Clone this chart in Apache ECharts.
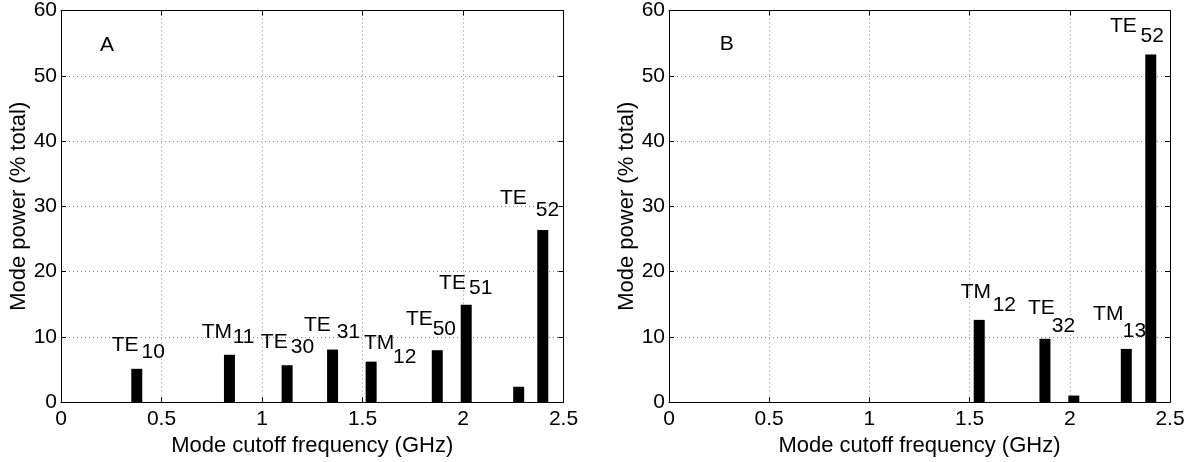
<!DOCTYPE html>
<html>
<head>
<meta charset="utf-8">
<script src="https://cdn.jsdelivr.net/npm/echarts@6/dist/echarts.min.js"></script>
<style>
html,body{margin:0;padding:0;background:#fff;}
#chart{width:1191px;height:462px;}
</style>
</head>
<body>
<div id="chart"></div>
<script>
// ---- data ----
const xTicks = [0, 0.5, 1, 1.5, 2, 2.5];
const yTicks = [0, 10, 20, 30, 40, 50, 60];
const xAxisTitle = 'Mode cutoff frequency (GHz)';
const yAxisTitle = 'Mode power (% total)';
const panelNames = ['A', 'B'];
const panelNamePos = [[0.229, 54.7], [0.288, 54.9]];

// Panel A bars
const freqA = [0.377, 0.838, 1.125, 1.351, 1.543, 1.872, 2.016, 2.277, 2.397];
const powerA = [5.1, 7.25, 5.65, 8.05, 6.2, 7.95, 14.9, 2.35, 26.35];
// Panel A mode labels
const modeA = ['TE', 'TM', 'TE', 'TE', 'TM', 'TE', 'TE', 'TE'];
const subA = ['10', '11', '30', '31', '12', '50', '51', '52'];
const modePosA = [[0.252, 8.67], [0.700, 10.68], [0.994, 9.16], [1.209, 11.71], [1.507, 9.05], [1.716, 12.70], [1.881, 18.28], [2.184, 31.25]];
const subPosA = [[0.401, 7.68], [0.854, 9.92], [1.143, 8.40], [1.372, 10.68], [1.652, 6.87], [1.849, 11.18], [2.030, 17.52], [2.362, 29.43]];

// Panel B bars
const freqB = [1.548, 1.876, 2.020, 2.282, 2.404];
const powerB = [12.6, 9.7, 1.0, 8.15, 53.25];
// Panel B mode labels
const modeB = ['TM', 'TE', 'TM', 'TE'];
const subB = ['12', '32', '13', '52'];
const modePosB = [[1.456, 16.88], [1.791, 14.34], [2.116, 13.51], [2.200, 57.64]];
const subPosB = [[1.615, 14.90], [1.910, 11.56], [2.264, 10.80], [2.353, 56.05]];

// ---- chart ----
const FONT = '"Liberation Sans", Arial, Helvetica, sans-serif';
const chart = echarts.init(document.getElementById('chart'), null, {renderer: 'canvas'});

const grids = [
  {left: 61, top: 9, width: 502.5, height: 394.5},
  {left: 669, top: 9, width: 501, height: 394.5}
];

function xAxes(gi) {
  return [
    {
      type: 'value', gridIndex: gi, position: 'bottom',
      min: xTicks[0], max: xTicks[xTicks.length - 1], interval: 0.5,
      name: xAxisTitle, nameLocation: 'middle', nameGap: 29,
      nameTextStyle: {fontFamily: FONT, fontSize: 22, color: '#000'},
      axisLine: {show: true, onZero: false, lineStyle: {color: '#000', width: 1}},
      axisTick: {show: true, inside: true, length: 5, lineStyle: {color: '#000'}},
      axisLabel: {show: true, fontFamily: FONT, fontSize: 21, color: '#000', margin: 7,
        formatter: v => String(v)},
      splitLine: {show: true, lineStyle: {color: '#8a8a8a', type: [1, 3], width: 1}}
    },
    {
      type: 'value', gridIndex: gi, position: 'top',
      min: xTicks[0], max: xTicks[xTicks.length - 1], interval: 0.5,
      axisLine: {show: true, onZero: false, lineStyle: {color: '#000', width: 1}},
      axisTick: {show: true, inside: true, length: 5, lineStyle: {color: '#000'}},
      axisLabel: {show: false},
      splitLine: {show: false}
    }
  ];
}
function yAxes(gi) {
  return [
    {
      type: 'value', gridIndex: gi, position: 'left',
      min: yTicks[0], max: yTicks[yTicks.length - 1], interval: 10,
      name: yAxisTitle, nameLocation: 'middle', nameGap: 30, nameRotate: 90,
      nameTextStyle: {fontFamily: FONT, fontSize: 22, color: '#000'},
      axisLine: {show: true, onZero: false, lineStyle: {color: '#000', width: 1}},
      axisTick: {show: true, inside: true, length: 5, lineStyle: {color: '#000'}},
      axisLabel: {show: true, fontFamily: FONT, fontSize: 21, color: '#000', margin: 4},
      splitLine: {show: true, lineStyle: {color: '#8a8a8a', type: [1, 3], width: 1}}
    },
    {
      type: 'value', gridIndex: gi, position: 'right',
      min: yTicks[0], max: yTicks[yTicks.length - 1], interval: 10,
      axisLine: {show: true, onZero: false, lineStyle: {color: '#000', width: 1}},
      axisTick: {show: true, inside: true, length: 5, lineStyle: {color: '#000'}},
      axisLabel: {show: false},
      splitLine: {show: false}
    }
  ];
}

function barSeries(gi, freqs, powers) {
  return {
    type: 'bar', xAxisIndex: gi * 2, yAxisIndex: gi * 2,
    data: freqs.map((f, i) => [f, powers[i]]),
    barWidth: 11,
    itemStyle: {color: '#000'},
    silent: true, animation: false
  };
}
function textSeries(gi, positions, texts, fontSize) {
  return {
    type: 'scatter', xAxisIndex: gi * 2, yAxisIndex: gi * 2,
    symbolSize: 0.01,
    data: positions.map((p, i) => ({value: [p[0], p[1]], name: texts[i]})),
    label: {
      show: true, position: 'right', distance: 0,
      formatter: p => p.name,
      fontFamily: FONT, fontSize: fontSize, color: '#000', opacity: 1
    },
    itemStyle: {color: '#000'},
    silent: true, animation: false, z: 5
  };
}
function panelLabelSeries(gi) {
  return {
    type: 'scatter', xAxisIndex: gi * 2, yAxisIndex: gi * 2,
    symbolSize: 0.01,
    data: [{value: panelNamePos[gi], name: panelNames[gi]}],
    label: {
      show: true, position: 'inside',
      formatter: p => p.name,
      fontFamily: FONT, fontSize: 21, color: '#000', opacity: 1
    },
    itemStyle: {color: '#000'},
    silent: true, animation: false, z: 5
  };
}

const option = {
  backgroundColor: '#fff',
  animation: false,
  grid: grids,
  xAxis: [...xAxes(0), ...xAxes(1)],
  yAxis: [...yAxes(0), ...yAxes(1)],
  series: [
    barSeries(0, freqA, powerA),
    barSeries(1, freqB, powerB),
    textSeries(0, modePosA, modeA, 21),
    textSeries(0, subPosA, subA, 21),
    textSeries(1, modePosB, modeB, 21),
    textSeries(1, subPosB, subB, 21),
    panelLabelSeries(0),
    panelLabelSeries(1)
  ]
};
chart.setOption(option);
</script>
</body>
</html>
